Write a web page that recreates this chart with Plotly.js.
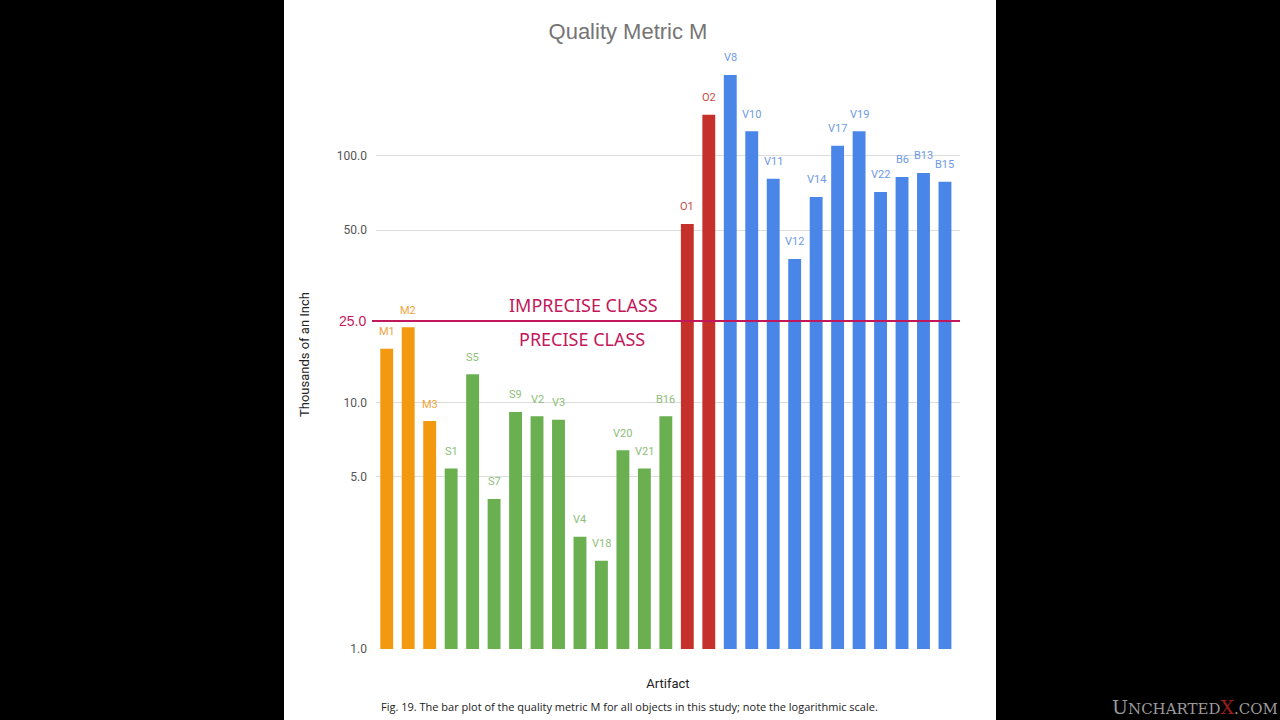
<!DOCTYPE html>
<html>
<head>
<meta charset="utf-8">
<script src="https://cdn.plot.ly/plotly-3.0.1.min.js"></script>
<style>
  html, body { margin: 0; padding: 0; background: #000; }
  #chart { width: 1280px; height: 720px; }
</style>
</head>
<body>
<div id="chart"></div>
<script>
// data (log scale, thousandths of an inch)
const artifacts = ["M1","M2","M3","S1","S5","S7","S9","V2","V3","V4","V18","V20","V21","B16",
                   "O1","O2","V8","V10","V11","V12","V14","V17","V19","V22","B6","B13","B15"];
const metricM = [16.5, 20.2, 8.4, 5.4, 13.0, 4.06, 9.15, 8.8, 8.5, 2.85, 2.28, 6.4, 5.4, 8.8,
                 53, 147, 213, 126, 80.7, 38.2, 68.2, 110, 126, 71.4, 82.2, 85.3, 78.5];
const groups = ["M","M","M","G","G","G","G","G","G","G","G","G","G","G",
                "O","O","B","B","B","B","B","B","B","B","B","B","B"];
const yTicks = [1, 5, 10, 50, 100];
const tickLabels = ["1.0", "5.0", "10.0", "50.0", "100.0"];
// the hand-drawn class threshold sits a bit below 25 on the axis
const thresholdLabel = "25.0";
const thresholdPos = 21.4;

const barColor = { M: "#F3990F", G: "#6AAF50", O: "#C5312A", B: "#4A86E8" };
const labelColor = { M: "#EFA43A", G: "#8DBE79", O: "#C84B45", B: "#6E9BE6" };

const plot_div = document.getElementById("chart");

// white page panel: plot area spans x 376..960 px of 1280
const plotL = 376, plotR = 960;
const px = p => (p - plotL) / (plotR - plotL);

let label_notes = artifacts.map((a, i) => ({
    x: a, y: Math.log10(metricM[i]), xref: "x", yref: "y",
    text: a, showarrow: false, yshift: 17,
    font: { family: "Roboto, Arial, sans-serif", size: 11, color: labelColor[groups[i]] }
}));

let notes = label_notes.concat([
    { xref: "paper", yref: "y", x: 0, y: Math.log10(thresholdPos), xanchor: "right", xshift: -8,
      text: thresholdLabel, showarrow: false,
      font: { family: "Liberation Sans, Arial, sans-serif", size: 14, color: "#C2185B" } },
    { xref: "paper", yref: "y", x: px(583), y: Math.log10(thresholdPos), yshift: 16,
      text: "IMPRECISE CLASS", showarrow: false,
      font: { family: "Noto Sans, Open Sans, sans-serif", size: 18, color: "#C2185B" } },
    { xref: "paper", yref: "y", x: px(582), y: Math.log10(thresholdPos), yshift: -18,
      text: "PRECISE CLASS", showarrow: false,
      font: { family: "Noto Sans, Open Sans, sans-serif", size: 18, color: "#C2185B" } },
    { xref: "paper", yref: "paper", x: px(629), y: 0, yshift: -57, yanchor: "middle",
      text: "Fig. 19. The bar plot of the quality metric M for all objects in this study; note the logarithmic scale.",
      showarrow: false,
      font: { family: "Open Sans, Noto Sans, sans-serif", size: 11, color: "#222" } },
    { xref: "paper", yref: "paper", x: px(1280), y: 0, xanchor: "right", yanchor: "middle", yshift: -58,
      text: "U<span style='font-size:15px'>NCHARTED</span><span style='color:#9B1B1B'>X</span><span style='font-size:15px'>.COM</span>",
      showarrow: false,
      font: { family: "DejaVu Serif, Liberation Serif, serif", size: 19, color: "#9A9A9A" } }
]);

let trace = {
    x: artifacts,
    y: metricM,
    type: "bar",
    marker: { color: groups.map(g => barColor[g]) },
    hoverinfo: "x+y"
};

let layout = {
    width: 1280, height: 720,
    paper_bgcolor: "#000000",
    plot_bgcolor: "#FFFFFF",
    margin: { l: plotL, r: 1280 - plotR, t: 60, b: 71 },
    showlegend: false,
    bargap: 0.4,
    title: { text: "Quality Metric M", x: px(628), xref: "paper", y: 0.957, yanchor: "middle",
             font: { family: "Liberation Sans, Arial, sans-serif", size: 22, color: "#757575" } },
    xaxis: {
        range: [-0.5, 26.7],
        showticklabels: false, ticks: "", showgrid: false, zeroline: false, showline: false,
        title: { text: "Artifact", standoff: 29,
                 font: { family: "Roboto, Arial, sans-serif", size: 13, color: "#222" } }
    },
    yaxis: {
        type: "log", range: [0, 2.389],
        tickvals: yTicks, ticktext: tickLabels,
        tickfont: { family: "Roboto, Arial, sans-serif", size: 12, color: "#555" },
        ticks: "", ticklabelstandoff: 8,
        gridcolor: "#DDDDDD", showline: false, zeroline: false,
        title: { text: "Thousands of an Inch", standoff: 24,
                 font: { family: "Roboto, Arial, sans-serif", size: 13, color: "#222" } }
    },
    shapes: [
        { type: "rect", layer: "below", xref: "paper", yref: "paper",
          x0: px(284), x1: px(996), y0: -71 / 589, y1: 1 + 60 / 589,
          fillcolor: "#FFFFFF", line: { width: 0 } },
        { type: "line", layer: "above", xref: "paper", yref: "y",
          x0: px(372), x1: 1, y0: thresholdPos, y1: thresholdPos,
          line: { color: "#C2185B", width: 2 } }
    ],
    annotations: notes
};

Plotly.newPlot(plot_div, [trace], layout, { staticPlot: true });
</script>
</body>
</html>
